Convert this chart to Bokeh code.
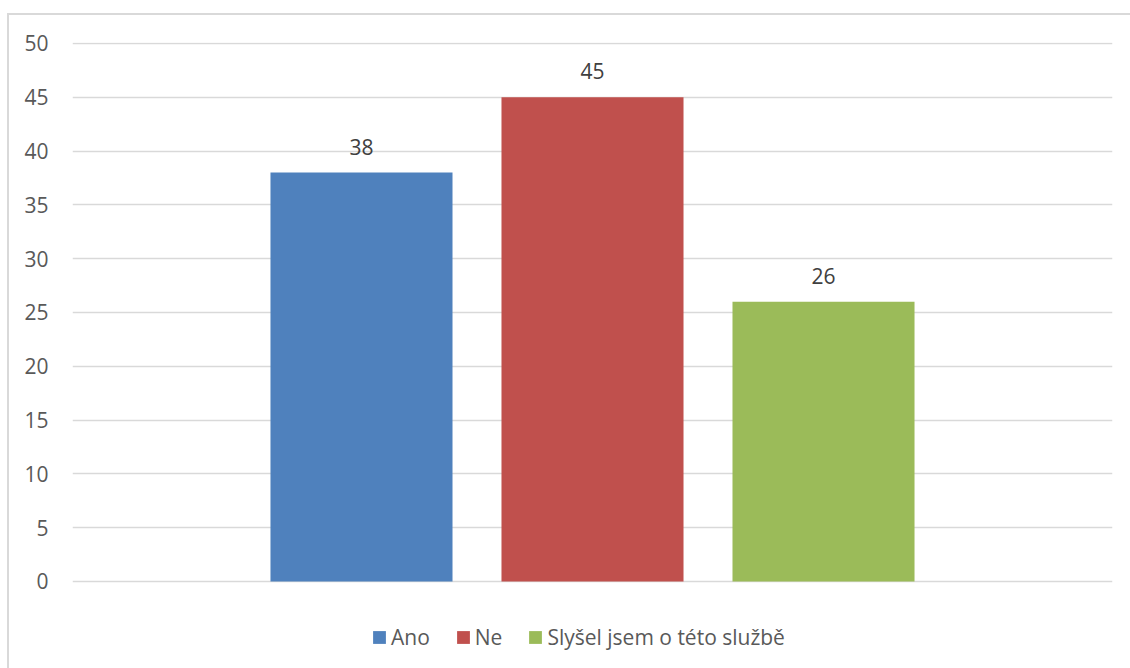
from bokeh.plotting import figure
from bokeh.models import ColumnDataSource, Range1d, FixedTicker, Legend, LegendItem
from bokeh.core.properties import value
from bokeh.embed import file_html
from bokeh.resources import INLINE

categories = ["Ano", "Ne", "Slyšel jsem o této službě"]
values = [38, 45, 26]
colors = ["#4F81BD", "#C0504D", "#9BBB59"]
yticks = [0, 5, 10, 15, 20, 25, 30, 35, 40, 45, 50]

FONT = "Open Sans"
positions = list(range(len(categories)))

src = ColumnDataSource(dict(x=positions, top=values, color=colors,
                            cat=categories, label=[str(v) for v in values]))

# frame spans from just above the 50 line down to the bottom of the chart,
# so that the legend can sit inside it below the 0 line
p = figure(width=1121, height=653, output_backend="svg", toolbar_location=None,
           x_range=Range1d(-1.251, 3.251), y_range=Range1d(-8.09, 50.09),
           min_border_left=63, min_border_top=27, min_border_right=18,
           min_border_bottom=0, margin=(15, 0, 0, 9))
p.styles = {"outline": "2px solid #d9d9d9"}
p.outline_line_color = None
p.background_fill_color = "white"
p.border_fill_color = "white"

r = p.vbar(x="x", top="top", bottom=0, width=0.788, fill_color="color",
           line_color=None, source=src)
p.text(x="x", y="top", text="label", source=src, y_offset=-18,
       text_align="center", text_baseline="bottom",
       text_font=value(FONT), text_font_size="21px", text_color="#404040")

p.xaxis.visible = False
p.xgrid.grid_line_color = None
p.ygrid.grid_line_color = "#d9d9d9"
p.ygrid.grid_line_width = 1.5
p.yaxis.ticker = FixedTicker(ticks=yticks)
p.yaxis.axis_line_color = None
p.yaxis.major_tick_line_color = None
p.yaxis.minor_tick_line_color = None
p.yaxis.major_tick_in = 0
p.yaxis.major_tick_out = 0
p.yaxis.major_label_standoff = 24
p.yaxis.major_label_text_font = FONT
p.yaxis.major_label_text_font_size = "21px"
p.yaxis.major_label_text_color = "#595959"

items = [LegendItem(label=c, renderers=[r], index=i) for i, c in enumerate(categories)]
legend = Legend(items=items, orientation="horizontal", location=(299, 17),
                glyph_width=16, glyph_height=16, label_standoff=4, spacing=25,
                label_text_font=FONT, label_text_font_size="21px",
                label_text_color="#595959", border_line_color=None,
                background_fill_alpha=0, padding=0, margin=0)
p.add_layout(legend, "center")

html = file_html(p, INLINE)
open("out.html", "w").write(html)
